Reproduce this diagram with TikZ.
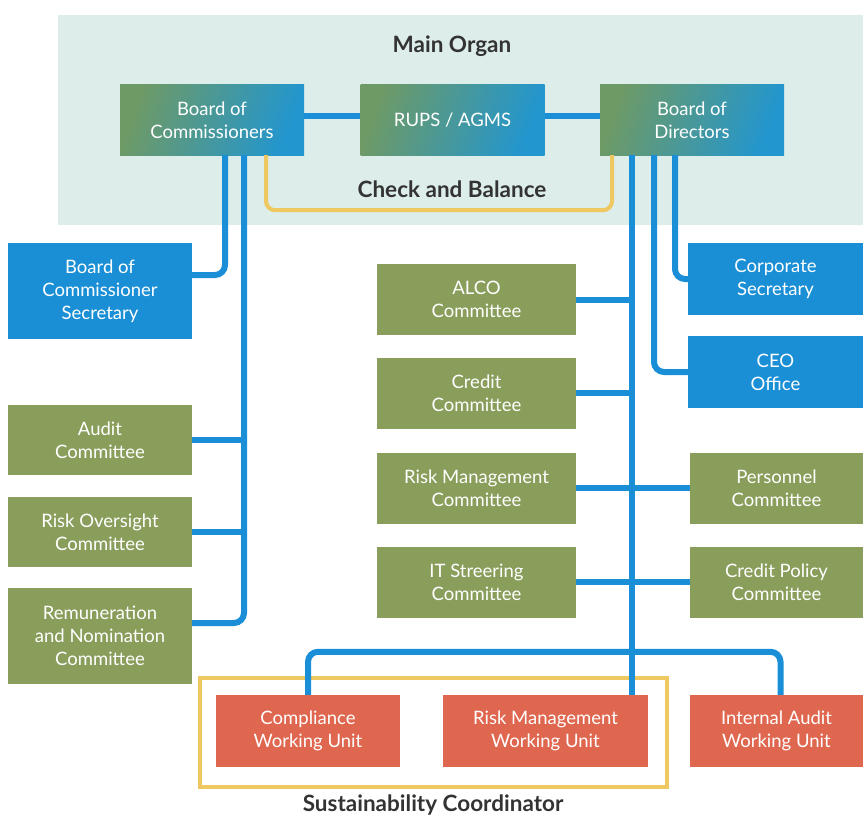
\documentclass[tikz,border=0pt]{standalone}
\usepackage{fontspec}
\setmainfont{Lato}
\usetikzlibrary{calc}
\definecolor{panelColor}{HTML}{DDEDEA}
\definecolor{unitGreen}{HTML}{8A9E5C}
\definecolor{unitBlue}{HTML}{1A8FD6}
\definecolor{unitRed}{HTML}{E0674F}
\definecolor{lineBlue}{HTML}{1A8FD8}
\definecolor{bracketYellow}{HTML}{F0C862}
\definecolor{gradGreen}{HTML}{6E9A66}
\definecolor{gradBlue}{HTML}{2296CF}
\definecolor{titleGray}{HTML}{333333}
\tikzset{
  unitBox/.style={
    draw=none,
    text=white,
    align=center,
    inner sep=0pt,
    font=\fontsize{18.5}{23}\selectfont
  },
  greenBox/.style={unitBox, fill=unitGreen},
  blueBox/.style={unitBox, fill=unitBlue},
  redBox/.style={unitBox, fill=unitRed},
  topBox/.style={
    unitBox,
    left color=gradGreen,
    right color=gradBlue,
    shading angle=70,
    minimum width=184,
    minimum height=70
  },
  linkLine/.style={
    lineBlue,
    line width=6pt
  },
  bracketLine/.style={
    bracketYellow,
    line width=4pt
  },
  titleText/.style={
    text=titleGray,
    font=\fontsize{22.5}{26}\selectfont\bfseries
  }
}

\begin{document}
\begin{tikzpicture}[x=1pt, y=-1pt]
\useasboundingbox[fill=white] (0,0) rectangle (863,816);

% Main organ panel
\fill[panelColor] (58,15) rectangle (863,225);
\node[titleText] (mainTitle) at (452,46) {Main Organ};

% === Top row ===
\node[topBox] (boc)  at (212,120)   {Board of\\Commissioners};
\node[topBox] (rups) at (452.5,120) {RUPS / AGMS};
\node[topBox] (bod)  at (692,120)   {Board of\\Directors};

% Check and balance bracket
\draw[bracketLine, rounded corners=9] ([xshift=54]boc.south) -- ++(0,55) -| ([xshift=-80]bod.south);
\node[titleText] (checkText) at (452,189) {Check and Balance};

% === Commissioner side ===
\node[blueBox, minimum width=184, minimum height=96] (bcs) at (100,291) {Board of\\Commissioner\\Secretary};
\node[greenBox, minimum width=184, minimum height=70] (audit) at (100,440) {Audit\\Committee};
\node[greenBox, minimum width=184, minimum height=70] (roc) at (100,532) {Risk Oversight\\Committee};
\node[greenBox, minimum width=184, minimum height=96] (rnc) at (100,636) {Remuneration\\and Nomination\\Committee};

% === Director side ===
\node[greenBox, minimum width=199, minimum height=71] (alco)   at (476.5,299.5) {ALCO\\Committee};
\node[greenBox, minimum width=199, minimum height=71] (credit) at (476.5,393)   {Credit\\Committee};
\node[greenBox, minimum width=199, minimum height=71] (rmc)    at (476.5,488)   {Risk Management\\Committee};
\node[greenBox, minimum width=199, minimum height=71] (itsc)   at (476.5,582)   {IT Streering\\Committee};

\node[blueBox, minimum width=175, minimum height=72] (corpsec) at (775.5,279) {Corporate\\Secretary};
\node[blueBox, minimum width=175, minimum height=72] (ceo)     at (775.5,372) {CEO\\Office};
\node[greenBox, minimum width=173, minimum height=71] (personnel) at (776.5,488) {Personnel\\Committee};
\node[greenBox, minimum width=173, minimum height=71] (cpc)       at (776.5,582) {Credit Policy\\Committee};

% === Working units ===
\node[redBox, minimum width=184, minimum height=72] (cwu)  at (308,731)   {Compliance\\Working Unit};
\node[redBox, minimum width=205, minimum height=72] (rmwu) at (545.5,731) {Risk Management\\Working Unit};
\node[redBox, minimum width=173, minimum height=72] (iawu) at (776.5,731) {Internal Audit\\Working Unit};

% Sustainability coordinator frame
\draw[bracketLine] ([shift={(-16,-17)}]cwu.north west) rectangle ([shift={(19,20)}]rmwu.south east);
\node[titleText] (sustText) at (433,805) {Sustainability Coordinator};

% --- Connectors ---
\draw[linkLine] ([yshift=4]boc.east) -- ([yshift=4]rups.west);
\draw[linkLine] ([yshift=4]rups.east) -- ([yshift=4]bod.west);

% commissioner trunk
\coordinate (leftTrunk) at ([xshift=32]boc.south);
\draw[linkLine, rounded corners=10] ([xshift=13]boc.south) |- ([yshift=16]bcs.east);
\draw[linkLine, rounded corners=10] (leftTrunk) |- ([yshift=13]rnc.east);
\draw[linkLine] (audit.east) -- (audit.east -| leftTrunk);
\draw[linkLine] (roc.east) -- (roc.east -| leftTrunk);

% director trunk
\coordinate (rightTrunk) at ([xshift=-60]bod.south);
\draw[linkLine] (rightTrunk) -- (rightTrunk |- rmwu.north);
\draw[linkLine] (alco.east) -- (alco.east -| rightTrunk);
\draw[linkLine] (credit.east) -- (credit.east -| rightTrunk);
\draw[linkLine] (rmc) -- (personnel);
\draw[linkLine] (itsc) -- (cpc);
\draw[linkLine, rounded corners=10] ([xshift=-38]bod.south) |- (ceo.west);
\draw[linkLine, rounded corners=10] ([xshift=-17]bod.south) |- (corpsec.west);

% working unit bus
\draw[linkLine, rounded corners=10] (cwu.north) -- ++(0,-43) -| ([xshift=4]iawu.north);

\end{tikzpicture}
\end{document}
